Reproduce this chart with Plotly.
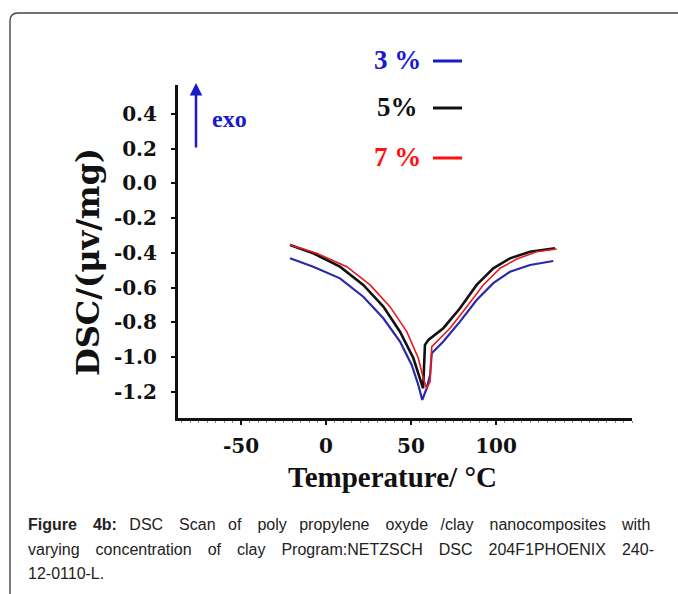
import plotly.graph_objects as go

# ---- data ----
series_names = ["3 %", "5%", "7 %"]
series_colors = ["#2a2aa8", "#111111", "#e8191c"]
legend_colors = ["#1a1acc", "#111111", "#ff1010"]

temp_3 = [-21.2, -7.5, 8.2, 21.9, 33.7, 43.5, 50.4, 54.3, 56.6, 59.2, 61.2, 62.2, 69.0, 78.8, 88.6, 98.4, 108.2, 120.0, 133.7]
dsc_3 = [-0.430, -0.479, -0.546, -0.652, -0.776, -0.910, -1.045, -1.160, -1.246, -1.179, -1.102, -0.977, -0.910, -0.795, -0.671, -0.574, -0.508, -0.469, -0.446]

temp_5 = [-21.2, -7.5, 8.2, 21.9, 33.7, 43.5, 51.4, 55.3, 57.1, 58.2, 60.2, 69.0, 78.8, 88.6, 98.4, 108.2, 120.0, 134.7]
dsc_5 = [-0.354, -0.402, -0.479, -0.584, -0.709, -0.853, -1.006, -1.121, -1.179, -0.929, -0.901, -0.833, -0.718, -0.584, -0.488, -0.431, -0.393, -0.373]

temp_7 = [-21.2, -5.5, 12.2, 25.9, 37.6, 47.5, 54.3, 57.2, 59.2, 61.2, 62.2, 65.1, 72.9, 82.8, 92.5, 102.4, 112.2, 123.9, 135.7]
dsc_7 = [-0.354, -0.402, -0.479, -0.584, -0.709, -0.853, -1.006, -1.121, -1.179, -1.141, -0.939, -0.910, -0.833, -0.709, -0.584, -0.488, -0.435, -0.393, -0.377]

x_ticks = [-50, 0, 50, 100]
x_ticktext = ["-50", "0", "50", "100"]
y_ticks = [0.4, 0.2, 0.0, -0.2, -0.4, -0.6, -0.8, -1.0, -1.2]
y_ticktext = ["0.4", "0.2", "0.0", "-0.2", "-0.4", "-0.6", "-0.8", "-1.0", "-1.2"]

caption_words = [
    ["<b>Figure</b>", "<b>4b:</b>", "DSC", "Scan", "of", "poly", "propylene", "oxyde", "/clay",
     "nanocomposites", "with"],
    ["varying", "concentration", "of", "clay", "Program:NETZSCH", "DSC", "204F1PHOENIX", "240-"],
    ["12-0110-L."],
]

# ---- layout geometry ----
W, H = 678, 594
L, R, T, B = 178, 46, 85, 176
PW, PH = W - L - R, H - T - B


def X(px):
    return (px - L) / PW


def Y(py):
    return (H - B - py) / PH


fig = go.Figure()
for xs, ys, c, w in [(temp_3, dsc_3, series_colors[0], 2.2),
                     (temp_5, dsc_5, series_colors[1], 2.6),
                     (temp_7, dsc_7, series_colors[2], 1.6)]:
    fig.add_trace(go.Scatter(x=xs, y=ys, mode="lines", line=dict(color=c, width=w),
                             showlegend=False, hoverinfo="skip"))

serif_b = dict(family="DejaVu Serif", size=20, color="#111", weight="bold")

fig.update_layout(
    width=W, height=H,
    margin=dict(l=L, r=R, t=T, b=B),
    paper_bgcolor="white", plot_bgcolor="white",
    xaxis=dict(range=[-87.1, 180], tickvals=x_ticks, ticktext=x_ticktext, ticks="outside",
               ticklen=4, tickwidth=2, tickcolor="#111", showline=True, linecolor="#111",
               linewidth=3, showgrid=False, zeroline=False, tickfont=serif_b,
               ticklabelstandoff=4,
               minor=dict(dtick=5, ticks="outside", ticklen=2, tickwidth=1, tickcolor="#888")),
    yaxis=dict(range=[-1.35, 0.567], tickvals=y_ticks, ticktext=y_ticktext, ticks="outside",
               ticklen=4, tickwidth=2, tickcolor="#111", showline=True, linecolor="#111",
               linewidth=3, showgrid=False, zeroline=False, tickfont=serif_b,
               ticklabelstandoff=10),
)

ann = []


def text_at(px, py, text, font, xanchor="center", **kw):
    ann.append(dict(x=X(px), y=Y(py), xref="paper", yref="paper", text=text,
                    xanchor=xanchor, yanchor="middle", showarrow=False, font=font, **kw))


# axis titles
text_at(88, 262, "<b>DSC/(μv/mg)</b>", dict(family="DejaVu Serif", size=32, color="#111"),
        textangle=-90)
text_at(392, 477, "<b>Temperature/ °C</b>", dict(family="Liberation Serif", size=29, color="#111"))
# exo arrow
ann.append(dict(x=X(196), y=Y(83), xref="paper", yref="paper", text="", showarrow=True,
                ax=0, ay=66, arrowhead=2, arrowsize=1, arrowwidth=2.5, arrowcolor="#1a1acc",
                standoff=0))
text_at(210, 119, "<b>exo</b>", dict(family="Liberation Serif", size=24, color="#1a1acc"),
        xanchor="left")
# manual legend
leg_y = [60, 107, 157]
shapes = []
for name, c, py in zip(series_names, legend_colors, leg_y):
    text_at(397, py, "<b>" + name + "</b>", dict(family="Liberation Serif", size=27, color=c))
    shapes.append(dict(type="line", xref="paper", yref="paper", x0=X(433), x1=X(462),
                       y0=Y(py + 1), y1=Y(py + 1), line=dict(color=c, width=3)))

# caption: widened word gaps imitate the justified paragraph of the reference
EM, EN = "\u2003", "\u2002 "


def join_words(words, gaps):
    out = words[0]
    for w, g in zip(words[1:], gaps):
        out += g + w
    return out


caption_lines = [
    join_words(caption_words[0], [EM, EN, EM, EN, EM, EN, EM, EN, EM, EM]),
    join_words(caption_words[1], [EM] * 7),
    join_words(caption_words[2], []),
]
for txt, py in zip(caption_lines, [524, 549, 573]):
    text_at(26, py, txt, dict(family="Liberation Sans", size=16, color="#222"), xanchor="left")

# rounded panel border
r = 8
path = (f"M {X(10)},{Y(600)} L {X(10)},{Y(13 + r)} "
        f"Q {X(10)},{Y(13)} {X(10 + r)},{Y(13)} L {X(690)},{Y(13)}")
shapes.append(dict(type="path", xref="paper", yref="paper", path=path,
                   line=dict(color="#444", width=1.4)))

fig.update_layout(annotations=ann, shapes=shapes)
fig.write_html("out.html")
